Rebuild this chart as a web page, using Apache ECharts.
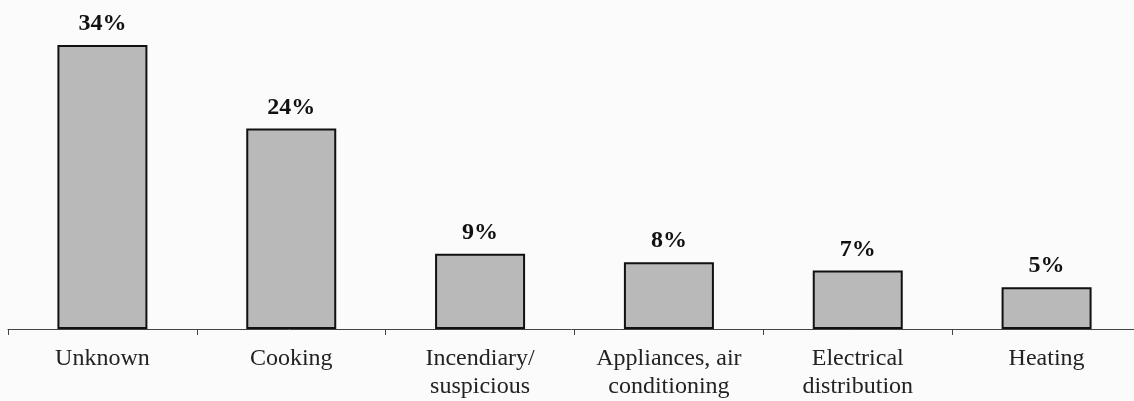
<!DOCTYPE html>
<html>
<head>
<meta charset="utf-8">
<script src="https://cdn.jsdelivr.net/npm/echarts@6/dist/echarts.min.js"></script>
<style>
    html, body { margin: 0; padding: 0; background: #fbfbfb; }
    #chart { width: 1134px; height: 401px; }
</style>
</head>
<body>
<div id="chart"></div>
<script>
    // categories and shares (percent)
    const categories = ['Unknown', 'Cooking', 'Incendiary/\nsuspicious', 'Appliances, air\nconditioning', 'Electrical\ndistribution', 'Heating']
    const shares = [34, 24, 9, 8, 7, 5]

    const chart = echarts.init(document.getElementById('chart'))
    const option = {
        animation: false,
        backgroundColor: '#fbfbfb',
        grid: {
            left: 8,
            top: 45,
            width: 1133,
            height: 284,
            outerBoundsMode: 'none',
            containLabel: false
        },
        xAxis: {
            type: 'category',
            data: categories,
            axisLine: { lineStyle: { color: '#444', width: 1 } },
            axisTick: { show: true, length: 6, lineStyle: { color: '#444' } },
            axisLabel: {
                interval: 0,
                margin: 16,
                color: '#222',
                fontFamily: 'Liberation Serif',
                fontSize: 24,
                lineHeight: 28
            }
        },
        yAxis: {
            type: 'value',
            min: 0,
            max: 34,
            show: false,
            splitLine: { show: false }
        },
        series: [
            {
                type: 'bar',
                data: shares,
                barWidth: 90,
                itemStyle: {
                    color: '#b9b9b9',
                    borderColor: '#111',
                    borderWidth: 2
                },
                label: {
                    show: true,
                    position: 'top',
                    distance: 9,
                    formatter: '{c}%',
                    color: '#111',
                    fontFamily: 'Liberation Serif',
                    fontWeight: 'bold',
                    fontSize: 24
                }
            }
        ]
    }
    chart.setOption(option)
</script>
</body>
</html>
